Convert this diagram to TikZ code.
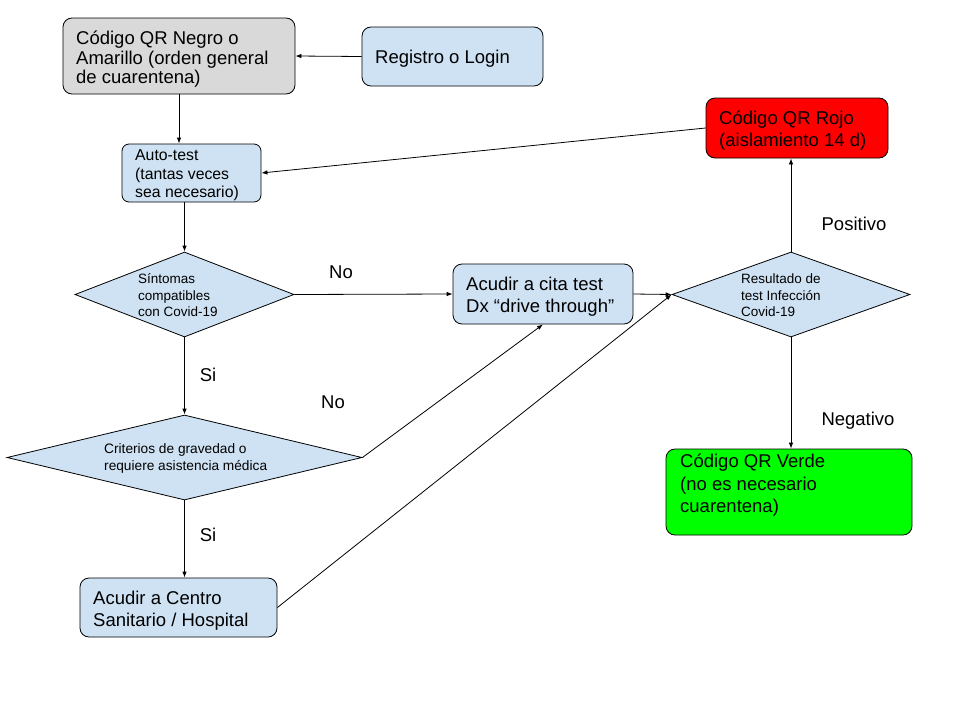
\documentclass[tikz,border=0pt]{standalone}
\usepackage{fontspec}
\setmainfont{Liberation Sans}
\usetikzlibrary{shapes.geometric,arrows.meta}
\definecolor{lblue}{HTML}{CFE2F3}
\definecolor{lgray}{HTML}{D9D9D9}
\definecolor{qrred}{HTML}{FF0000}
\definecolor{qrgreen}{HTML}{00FF00}
\begin{document}
\begin{tikzpicture}[x=1pt,y=-1pt,
 box/.style={draw, line width=0.8pt, rounded corners=9pt, inner sep=0pt, fill=lblue},
 dia/.style={draw, diamond, line width=0.8pt, inner sep=0pt, fill=lblue},
 txt/.style={anchor=base west, inner sep=0pt},
 big/.style={font=\fontsize{18.5}{21.5}\selectfont},
 mid/.style={font=\fontsize{15.8}{18.5}\selectfont},
 small/.style={font=\fontsize{13.5}{16.5}\selectfont},
 arr/.style={-{Latex[length=6pt,width=4.5pt]}, line width=0.8pt},
 lbl/.style={inner sep=0pt, anchor=base, font=\fontsize{18.5}{21.5}\selectfont}]
\useasboundingbox (0,0) rectangle (960,720);

% boxes
\node[box, fill=lgray, minimum width=232pt, minimum height=76pt] (neg) at (179,56) {};
\node[box, minimum width=181pt, minimum height=59pt] (reg) at (452.5,56.5) {};
\node[box, rounded corners=7pt, minimum width=139pt, minimum height=58pt] (auto) at (191.5,173) {};
\node[box, fill=qrred, minimum width=182pt, minimum height=60pt] (red) at (797,128) {};
\node[dia, minimum width=219pt, minimum height=85pt] (sint) at (184.5,294.5) {};
\node[box, minimum width=180pt, minimum height=60pt] (cita) at (543,294) {};
\node[dia, minimum width=238pt, minimum height=85pt] (res) at (791,294.5) {};
\node[dia, minimum width=355pt, minimum height=85pt] (crit) at (184.5,457.5) {};
\node[box, fill=qrgreen, minimum width=246pt, minimum height=86pt] (verde) at (789,492) {};
\node[box, minimum width=197pt, minimum height=59pt] (hosp) at (178.5,607.5) {};

% texts
\node[txt, font=\fontsize{18.5}{19.5}\selectfont] (tneg) at (76,44.6)
  {\vtop{\hbox{Código QR Negro o}\hbox{Amarillo (orden general}\hbox{de cuarentena)}}};
\node[txt, big] (treg) at (375,63.6) {Registro o Login};
\node[txt, mid] (tauto) at (135,160.7)
  {\vtop{\hbox{Auto-test}\hbox{(tantas veces}\hbox{sea necesario)}}};
\node[txt, big] (tred) at (719,124.6)
  {\vtop{\hbox{Código QR Rojo}\hbox{(aislamiento 14 d)}}};
\node[txt, small] (tsint) at (138,283.8)
  {\vtop{\hbox{Síntomas}\hbox{compatibles}\hbox{con Covid-19}}};
\node[txt, big] (tcita) at (466,290.6)
  {\vtop{\hbox{Acudir a cita test}\hbox{Dx “drive through”}}};
\node[txt, small] (tres) at (741,283.8)
  {\vtop{\hbox{Resultado de}\hbox{test Infección}\hbox{Covid-19}}};
\node[txt, font=\fontsize{13.7}{17}\selectfont] (tcrit) at (104,453.8)
  {\vtop{\hbox{Criterios de gravedad o}\hbox{requiere asistencia médica}}};
\node[txt, font=\fontsize{18.5}{22.5}\selectfont] (tverde) at (680,467.6)
  {\vtop{\hbox{Código QR Verde}\hbox{(no es necesario}\hbox{cuarentena)}}};
\node[txt, big] (thosp) at (93,604.6)
  {\vtop{\hbox{Acudir a Centro}\hbox{Sanitario / Hospital}}};

% labels
\node[lbl] (lno1) at (341,278.6) {No};
\node[lbl] (lsi1) at (208,381.6) {Si};
\node[lbl] (lno2) at (333,408.6) {No};
\node[lbl] (lsi2) at (208,541.6) {Si};
\node[lbl] (lpos) at (854,230.6) {Positivo};
\node[lbl] (lneg) at (858,425.6) {Negativo};

% connectors
\draw[arr] (reg.west) -- (neg.east);
\draw[arr] (neg.south) -- (neg.south |- auto.north);
\draw[arr] (red.west) -- (auto.east);
\draw[arr] (sint.north |- auto.south) -- (sint.north);
\draw[arr] (sint.east) -- (cita.west);
\draw[arr] (sint.south) -- (crit.north);
\draw[arr] (crit.east) -- (cita.south);
\draw[arr] (crit.south) -- (crit.south |- hosp.north);
\draw[arr] (hosp.east) -- (res.west);
\draw[arr] (cita.east) -- (res.west);
\draw[arr] (res.north) -- (res.north |- red.south);
\draw[arr] (res.south) -- (res.south |- verde.north);
\end{tikzpicture}
\end{document}
